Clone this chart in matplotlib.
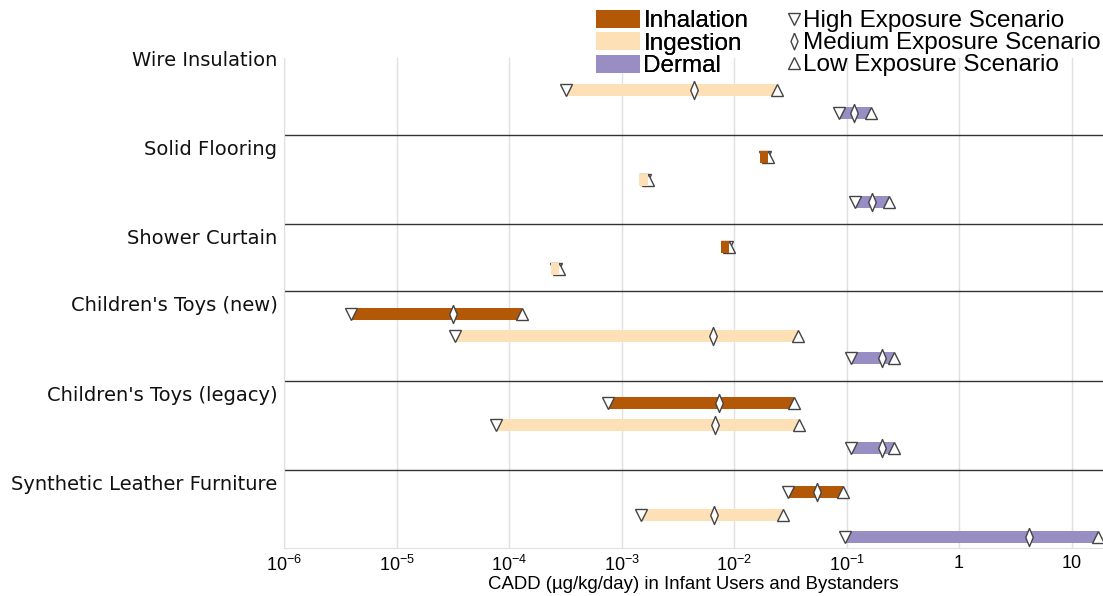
import numpy as np
import matplotlib
matplotlib.use("Agg")
import matplotlib.pyplot as plt
from matplotlib.patches import Patch
from matplotlib.lines import Line2D
from matplotlib.ticker import FixedLocator, NullLocator
import matplotlib.transforms as mtransforms

plt.rcParams['font.family'] = 'Liberation Sans'
plt.rcParams['mathtext.fontset'] = 'custom'
plt.rcParams['mathtext.rm'] = 'Liberation Sans'

# categories, top to bottom
categories = ['Wire Insulation', 'Solid Flooring', 'Shower Curtain',
              "Children's Toys (new)", "Children's Toys (legacy)",
              'Synthetic Leather Furniture']
# number of row slots used by each category (inhalation, ingestion, dermal)
route_slots = [3, 3, 2, 3, 3, 3]

routes = ['Inhalation', 'Ingestion', 'Dermal']
route_colors = ['#b35806', '#fee0b6', '#998ec3']

# CADD (ug/kg/day): high / medium / low exposure scenario, None = not assessed
inh_high = [None, 0.0190, 0.0086, 3.9e-6, 7.6e-4, 0.030]
inh_mid = [None, 0.0195, 0.0088, 3.2e-5, 7.3e-3, 0.055]
inh_low = [None, 0.0200, 0.0090, 1.31e-4, 0.034, 0.093]

ing_high = [3.2e-4, 1.6e-3, 2.6e-4, 3.3e-5, 7.7e-5, 1.5e-3]
ing_mid = [4.4e-3, 1.65e-3, 2.7e-4, 6.5e-3, 6.7e-3, 6.6e-3]
ing_low = [0.024, 1.7e-3, 2.8e-4, 0.037, 0.038, 0.027]

derm_high = [0.085, 0.118, None, 0.109, 0.109, 0.096]
derm_mid = [0.117, 0.167, None, 0.205, 0.205, 4.2]
derm_low = [0.165, 0.237, None, 0.262, 0.262, 17.3]

tick_vals = [1e-6, 1e-5, 1e-4, 1e-3, 1e-2, 1e-1, 1, 10]
tick_labels = [r'$\mathregular{10^{-6}}$', r'$\mathregular{10^{-5}}$',
               r'$\mathregular{10^{-4}}$', r'$\mathregular{10^{-3}}$',
               r'$\mathregular{10^{-2}}$', r'$\mathregular{10^{-1}}$',
               '1', '10']

highs = [inh_high, ing_high, derm_high]
mids = [inh_mid, ing_mid, derm_mid]
lows = [inh_low, ing_low, derm_low]

fig = plt.figure(figsize=(11.03, 5.96), dpi=100)
ax = fig.add_axes([0.2575, 0.0805, 0.7425, 0.8222])

thin_diamond = [(0, 1), (0.42, 0), (0, -1), (-0.42, 0), (0, 1)]
mk = dict(markerfacecolor='white', markeredgecolor='#444444',
          markeredgewidth=1.0, linestyle='none', zorder=4)

label_trans = mtransforms.blended_transform_factory(ax.transAxes, ax.transData)

# very short ranges are drawn as a small square block
min_span = 0.075  # decades

y = 0
for ci, cat in enumerate(categories):
    ax.text(-0.008, y - 0.35, cat, transform=label_trans, ha='right', va='center',
            fontsize=14, family='DejaVu Sans', color='#111111')
    for ri in range(route_slots[ci]):
        h, m, l = highs[ri][ci], mids[ri][ci], lows[ri][ci]
        if h is not None:
            if np.log10(l / h) < min_span:
                left = l / 10 ** min_span
                ax.plot([h], [y], marker='v', markersize=9, **mk)
                ax.plot([l], [y], marker='^', markersize=9, **mk)
                ax.barh(y, l - left, left=left, height=0.54, color=route_colors[ri], zorder=5)
            else:
                ax.barh(y, l - h, left=h, height=0.54, color=route_colors[ri], zorder=2)
                ax.plot([h], [y], marker='v', markersize=9, **mk)
                ax.plot([l], [y], marker='^', markersize=9, **mk)
                ax.plot([m], [y], marker=thin_diamond, markersize=13, **mk)
        y += 1
    if ci < len(categories) - 1:
        ax.axhline(y, color='#333333', lw=1.0, zorder=1)
    y += 1

ax.set_xscale('log')
ax.set_xlim(1e-6, 19)
ax.set_ylim(21.5, -0.45)
ax.xaxis.set_major_locator(FixedLocator(tick_vals))
ax.xaxis.set_minor_locator(NullLocator())
ax.set_xticklabels(tick_labels, fontsize=13)
ax.tick_params(axis='x', length=0, pad=5)
ax.set_yticks([])
ax.grid(axis='x', color='#e0e0e0', lw=1.0, zorder=0)
ax.set_axisbelow(True)
for side in ['top', 'right']:
    ax.spines[side].set_visible(False)
ax.spines['left'].set_color('#e0e0e0')
ax.spines['bottom'].set_color('#e0e0e0')

ax.set_xlabel('CADD (µg/kg/day) in Infant Users and Bystanders', fontsize=13.4, labelpad=1)

# legends
route_handles = [Patch(facecolor=c, edgecolor='none') for c in route_colors]
leg1 = fig.legend(route_handles, routes, loc='upper left',
                  bbox_to_anchor=(596 / 1103, 1 - 10 / 596), frameon=False,
                  fontsize=17.5, handlelength=1.8, handleheight=0.75,
                  handletextpad=0.15, labelspacing=0.0, borderpad=0, borderaxespad=0)
scen_handles = [Line2D([], [], marker='v', markersize=9, **mk),
                Line2D([], [], marker=thin_diamond, markersize=12, **mk),
                Line2D([], [], marker='^', markersize=9, **mk)]
scen_labels = ['High Exposure Scenario', 'Medium Exposure Scenario', 'Low Exposure Scenario']
leg2 = fig.legend(scen_handles, scen_labels, loc='upper right',
                  bbox_to_anchor=(1101 / 1103, 1 - 10 / 596), frameon=False,
                  fontsize=17.5, handlelength=0.6, handletextpad=0.1,
                  labelspacing=0.0, borderpad=0, borderaxespad=0)
fig.add_artist(leg1)

fig.savefig('out.png', dpi=100)
